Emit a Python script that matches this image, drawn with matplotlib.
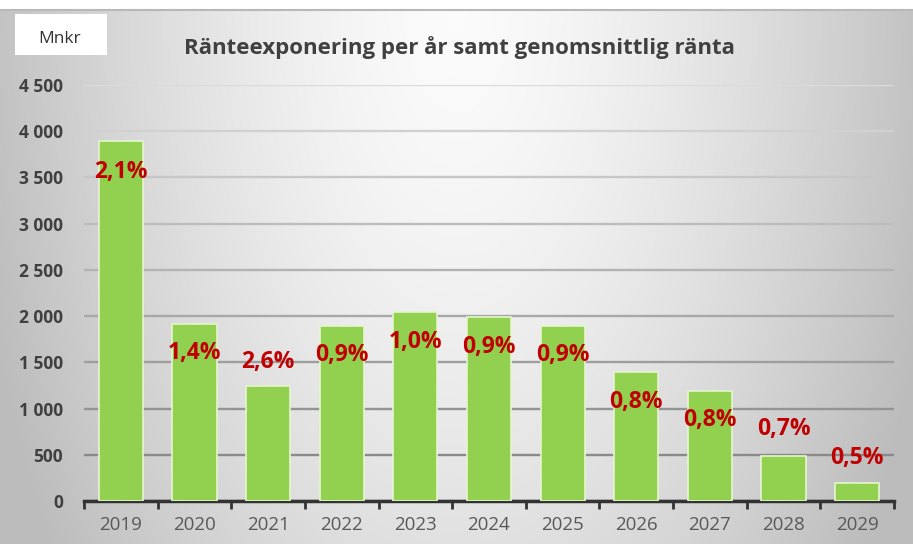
import numpy as np
import matplotlib
matplotlib.use("Agg")
import matplotlib.pyplot as plt
from matplotlib.patches import Rectangle

# data
years = ["2019", "2020", "2021", "2022", "2023", "2024", "2025", "2026", "2027", "2028", "2029"]
exposure = [3890, 1920, 1245, 1895, 2045, 1990, 1895, 1395, 1190, 490, 195]
rate_labels = ["2,1%", "1,4%", "2,6%", "0,9%", "1,0%", "0,9%", "0,9%", "0,8%", "0,8%", "0,7%", "0,5%"]
yticks = [0, 500, 1000, 1500, 2000, 2500, 3000, 3500, 4000, 4500]
ytick_labels = ["0", "500", "1 000", "1 500", "2 000", "2 500", "3 000", "3 500", "4 000", "4 500"]

# where the rate labels sit (layout, in axis units)
label_y = [3560, 1600, 1505, 1580, 1720, 1665, 1580, 1070, 880, 780, 465]

plt.rcParams['font.family'] = ['Open Sans', 'DejaVu Sans']

fig = plt.figure(figsize=(9.13, 5.44), dpi=100)

# grey gradient background (lighter at top centre)
bg = fig.add_axes([0, 0, 1, 1 - 10 / 544], zorder=-10)
xx, yy = np.meshgrid(np.linspace(-1, 1, 400), np.linspace(0, 1, 240))
d = np.sqrt((xx * 1.0) ** 2 + (yy * 0.6) ** 2)
shade = np.clip(0.985 - 0.22 * d ** 1.5, 0.74, 1)
bg.imshow(np.dstack([shade] * 3), aspect='auto', extent=[0, 1, 0, 1], origin='upper')
bg.set_xlim(0, 1)
bg.set_ylim(0, 1)
bg.axis('off')
fig.add_artist(plt.Line2D([0, 1], [1 - 10 / 544] * 2, color='#b8b8b8', lw=1.5,
                          transform=fig.transFigure))

ax = fig.add_axes([84 / 913, 1 - 501 / 544, 810 / 913, 416 / 544])
ax.patch.set_alpha(0)

x = np.arange(len(years))
ax.bar(x, exposure, width=0.6, color='#92d050', edgecolor='#e6f5cf', linewidth=1.2, zorder=3)

for i, lab in enumerate(rate_labels):
    ax.text(x[i], label_y[i], lab, ha='center', va='center', color='#c00000',
            fontsize=16.5, fontweight='bold', zorder=4)

ax.set_xlim(-0.5, len(years) - 0.5)
ax.set_ylim(0, 4500)
ax.set_yticks(yticks)
ax.set_yticklabels(ytick_labels, fontsize=12.5, fontweight='bold', color='#404040')
ax.tick_params(axis='y', length=0, pad=15)

ax.set_xticks(x)
ax.set_xticklabels(years, fontsize=13.5, color='#595959')
ax.set_xticks(np.arange(-0.5, len(years)), minor=True)
ax.tick_params(axis='x', which='major', length=0, pad=11)
ax.tick_params(axis='x', which='minor', length=6, width=2, color='#333333')

ax.yaxis.grid(True, lw=1.7, zorder=0)
grid_cols = np.linspace(0.50, 0.86, len(yticks))
for gl, c in zip(ax.get_ygridlines(), grid_cols):
    gl.set_color(str(c))
ax.set_axisbelow(True)

for s in ['top', 'right', 'left']:
    ax.spines[s].set_visible(False)
ax.spines['bottom'].set_color('#333333')
ax.spines['bottom'].set_linewidth(2.5)

# unit box and title
fig.patches.append(Rectangle((15 / 913, 1 - 55 / 544), 92 / 913, 41 / 544,
                             transform=fig.transFigure, facecolor='white',
                             edgecolor='none', zorder=5))
fig.text(60 / 913, 1 - 39 / 544, "Mnkr", ha='center', va='center', fontsize=12.5,
         color='#333333', zorder=6)
fig.text(459 / 913, 1 - 48 / 544, "Ränteexponering per år samt genomsnittlig ränta",
         ha='center', va='center', fontsize=16, fontweight='bold', color='#404040')

fig.savefig("out.png", dpi=100)
